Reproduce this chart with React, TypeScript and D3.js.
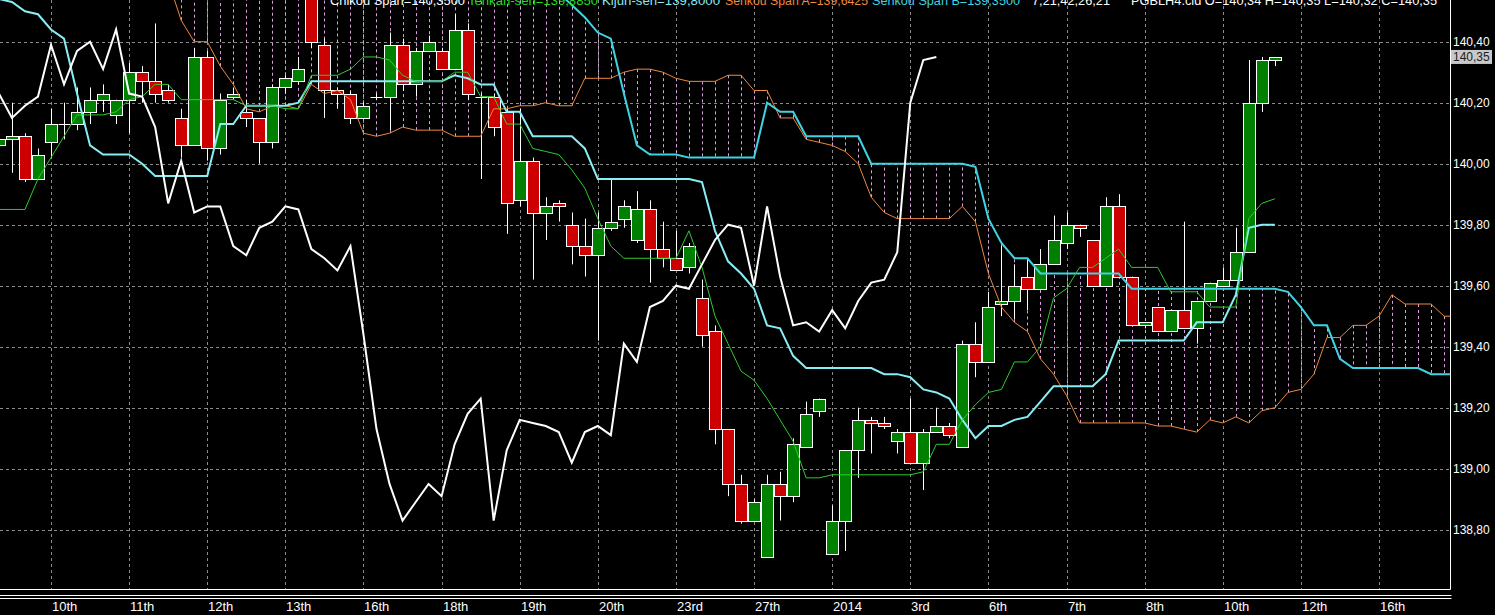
import React from "react";
import * as d3 from "d3";

// ---------------- data (H4 candles, index 0..98) ----------------
const open = [140.06,140.08,140.09,139.95,140.07,140.13,140.13,140.17,140.21,140.16,
140.21,140.30,140.27,140.24,140.15,140.06,140.35,140.05,140.22,140.17,
140.15,140.07,140.25,140.27,140.54,140.39,140.24,140.23,140.15,140.22,
140.22,140.39,140.26,140.37,140.37,140.31,140.44,140.22,140.22,140.17,
139.88,140.01,139.84,139.87,139.80,139.73,139.70,139.79,139.82,139.75,
139.85,139.72,139.69,139.66,139.56,139.45,139.13,138.95,138.83,138.71,
138.95,138.91,139.07,139.19,138.72,138.83,139.06,139.16,139.15,139.09,
139.12,139.02,139.12,139.14,139.07,139.41,139.35,139.54,139.55,139.63,
139.59,139.67,139.74,139.80,139.75,139.60,139.86,139.63,139.47,139.53,
139.45,139.52,139.46,139.55,139.60,139.62,139.71,140.20,140.34];

const high = [140.10,140.20,140.10,140.05,140.18,140.20,140.25,140.25,140.26,140.21,
140.33,140.32,140.46,140.26,140.18,140.38,140.37,140.23,140.25,140.21,
140.15,140.26,140.29,140.35,140.60,140.41,140.25,140.24,140.20,140.23,
140.43,140.41,140.38,140.42,140.38,140.49,140.46,140.23,140.23,140.18,
140.18,140.02,139.89,139.88,139.84,139.82,139.84,139.95,139.88,139.91,
139.88,139.81,139.78,139.74,139.62,139.47,139.13,138.98,138.90,138.98,
138.99,139.10,139.22,139.23,138.88,139.06,139.20,139.17,139.17,139.13,
139.23,139.13,139.20,139.15,139.42,139.48,139.58,139.73,139.67,139.69,
139.72,139.83,139.84,139.80,139.75,139.89,139.90,139.63,139.48,139.53,
139.52,139.81,139.55,139.61,139.66,139.79,140.34,140.35,140.35];

const low = [140.04,139.97,139.94,139.95,140.02,140.08,140.11,140.13,140.17,140.13,
140.10,140.20,140.20,140.20,140.02,140.06,140.01,140.03,140.21,140.12,
140.00,140.05,140.23,140.26,140.38,140.15,140.18,140.13,140.15,140.21,
140.11,140.24,140.22,140.37,140.31,140.31,140.21,139.95,140.09,139.77,
139.86,139.62,139.75,139.81,139.67,139.63,139.42,139.78,139.79,139.74,
139.61,139.66,139.65,139.64,139.40,139.08,138.91,138.82,138.83,138.71,
138.83,138.89,139.07,139.17,138.72,138.73,138.97,139.05,139.13,139.05,
139.02,138.93,139.12,139.10,139.07,139.30,139.35,139.50,139.49,139.52,
139.59,139.67,139.72,139.76,139.60,139.60,139.63,139.47,139.46,139.45,
139.45,139.46,139.41,139.55,139.60,139.62,139.71,140.17,140.32];

const close = [140.08,140.09,139.95,140.03,140.13,140.13,140.17,140.21,140.23,140.21,
140.30,140.27,140.23,140.21,140.06,140.35,140.05,140.21,140.23,140.15,
140.07,140.25,140.28,140.31,140.40,140.24,140.23,140.15,140.19,140.22,
140.39,140.26,140.37,140.40,140.31,140.44,140.23,140.22,140.12,139.87,
140.01,139.84,139.86,139.86,139.73,139.70,139.79,139.81,139.86,139.85,
139.72,139.69,139.65,139.73,139.44,139.13,138.95,138.83,138.89,138.95,
138.91,139.08,139.18,139.23,138.83,139.06,139.16,139.15,139.14,139.12,
139.02,139.12,139.14,139.11,139.41,139.35,139.53,139.55,139.60,139.59,
139.67,139.75,139.80,139.79,139.60,139.86,139.63,139.47,139.48,139.45,
139.52,139.46,139.55,139.61,139.62,139.71,140.20,140.34,140.35];

// Tenkan-sen (green), bars 0..98
const tenkan = [139.85,139.85,139.85,139.95,140.02,140.09,140.16,140.16,140.16,140.17,
140.21,140.22,140.26,140.26,140.21,140.21,140.21,140.21,140.21,140.19,
140.19,140.19,140.18,140.18,140.29,140.29,140.29,140.31,140.35,140.35,
140.34,140.29,140.27,140.27,140.27,140.30,140.30,140.22,140.22,140.13,
140.13,140.05,140.04,140.03,139.98,139.92,139.82,139.73,139.69,139.69,
139.69,139.69,139.69,139.78,139.66,139.50,139.41,139.32,139.29,139.23,
139.16,139.09,138.97,138.97,138.98,138.98,138.98,138.98,138.98,138.98,
138.98,138.99,139.08,139.08,139.16,139.21,139.25,139.26,139.35,139.35,
139.40,139.56,139.59,139.66,139.66,139.69,139.72,139.66,139.66,139.66,
139.58,139.58,139.58,139.53,139.53,139.53,139.82,139.87,139.885];

// Kijun-sen (light cyan), bars 0..98
const kijun = [140.54,140.53,140.50,140.49,140.44,140.41,140.23,140.06,140.03,140.03,
140.03,140.00,139.96,139.96,139.96,139.96,139.96,140.13,140.13,140.19,
140.19,140.19,140.19,140.20,140.27,140.27,140.27,140.27,140.27,140.27,
140.27,140.27,140.27,140.27,140.27,140.29,140.28,140.26,140.26,140.17,
140.17,140.09,140.09,140.09,140.09,140.05,139.95,139.95,139.95,139.95,
139.95,139.95,139.95,139.95,139.94,139.78,139.68,139.64,139.59,139.47,
139.46,139.37,139.33,139.33,139.33,139.33,139.33,139.33,139.31,139.31,
139.30,139.26,139.25,139.23,139.16,139.10,139.14,139.14,139.16,139.17,
139.22,139.27,139.27,139.27,139.27,139.31,139.42,139.42,139.42,139.42,
139.42,139.42,139.48,139.48,139.48,139.57,139.79,139.80,139.80];

// Senkou Span A (orange), plotted bars 0..112
const senkouA = [140.66,140.66,140.70,140.70,140.72,140.72,140.72,140.70,140.70,140.68,
140.68,140.66,140.64,140.60,140.47,140.40,140.40,140.32,140.26,140.18,
140.17,140.19,140.19,140.18,140.26,140.23,140.24,140.21,140.10,140.09,
140.10,140.12,140.11,140.11,140.11,140.09,140.09,140.09,140.18,140.18,
140.19,140.19,140.20,140.19,140.19,140.28,140.28,140.28,140.30,140.31,
140.31,140.30,140.28,140.27,140.27,140.27,140.29,140.29,140.24,140.24,
140.15,140.15,140.08,140.07,140.06,140.04,140.00,139.89,139.84,139.82,
139.82,139.82,139.82,139.82,139.86,139.81,139.64,139.53,139.48,139.45,
139.36,139.31,139.24,139.15,139.15,139.15,139.15,139.15,139.15,139.14,
139.14,139.13,139.12,139.16,139.15,139.17,139.15,139.19,139.20,139.25,
139.26,139.31,139.43,139.43,139.47,139.47,139.50,139.57,139.54,139.54,
139.54,139.50,139.50];

// Senkou Span B (cyan), plotted bars 0..112
const senkouB = [140.80,140.80,140.80,140.80,140.80,140.80,140.80,140.80,140.80,140.80,
140.80,140.80,140.80,140.80,140.80,140.80,140.80,140.80,140.80,140.80,
140.80,140.76,140.76,140.76,140.76,140.76,140.76,140.76,140.76,140.76,
140.76,140.76,140.76,140.76,140.76,140.76,140.70,140.70,140.70,140.70,
140.70,140.70,140.70,140.56,140.52,140.48,140.43,140.41,140.23,140.06,
140.03,140.03,140.03,140.02,140.02,140.02,140.02,140.02,140.02,140.20,
140.17,140.17,140.09,140.09,140.09,140.09,140.09,140.00,140.00,140.00,
140.00,140.00,140.00,140.00,140.00,139.99,139.82,139.74,139.69,139.69,
139.64,139.64,139.64,139.64,139.64,139.64,139.64,139.59,139.59,139.59,
139.59,139.59,139.59,139.59,139.59,139.59,139.59,139.59,139.59,139.58,
139.53,139.47,139.47,139.36,139.33,139.33,139.33,139.33,139.33,139.33,
139.31,139.31,139.31];

// Chikou Span (white), plotted bars 0..72
const chikou = [140.23,140.15,140.19,140.22,140.39,140.26,140.37,140.40,140.31,140.44,
140.23,140.22,140.12,139.87,140.01,139.84,139.86,139.86,139.73,139.70,
139.79,139.81,139.86,139.85,139.72,139.69,139.65,139.73,139.44,139.13,
138.95,138.83,138.89,138.95,138.91,139.08,139.18,139.23,138.83,139.06,
139.16,139.15,139.14,139.12,139.02,139.12,139.14,139.11,139.41,139.35,
139.53,139.55,139.60,139.59,139.67,139.75,139.80,139.79,139.60,139.86,
139.63,139.47,139.48,139.45,139.52,139.46,139.55,139.61,139.62,139.71,
140.20,140.34,140.35];

const dateBars = [4,10,16,22,28,34,40,46,52,58,64,70,76,82,88,94,100,106];
const dateLabels = ["10th","11th","12th","13th","16th","18th","19th","20th","23rd","27th","2014","3rd","6th","7th","8th","10th","12th","16th"];
const priceTicks = [140.4,140.2,140.0,139.8,139.6,139.4,139.2,139.0,138.8];
const lastPrice = 140.35;
const headerTexts = ["Chikou Span=140,3500","Tenkan-sen=139,8850","Kijun-sen=139,8000","Senkou Span A=139,6425","Senkou Span B=139,3500","7,21,42,26,21","PGBLH4.cld O=140,34 H=140,35 L=140,32 C=140,35"];

// ---------------- layout / style ----------------
const W = 1495, H = 615, PR = 1450, PB = 589;
const headerX = [330, 468, 602, 725, 872, 1032, 1131];
const headerW = [135, 130, 118, 143, 148, 78, 306];
const headerColors = ["#ffffff", "#22dd22", "#8ae8f2", "#f08a3c", "#3fd3e3", "#ffffff", "#ffffff"];
const FONT = "'Liberation Sans', Arial, sans-serif";
const BULL = "#008000", BEAR = "#cc0000";
const GRID = "#8a8a8a", HATCH = "#dda0dd";
const TENKAN_C = "#2ecc2e", KIJUN_C = "#87eef5", SA_C = "#f0883e", SB_C = "#3fd3e3";

export default function App() {
  React.useEffect(() => {
    document.body.style.margin = "0";
    document.body.style.background = "#000";
  }, []);

  const x = d3.scaleLinear().domain([4, 106]).range([51, 1379]);
  const y = d3.scaleLinear().domain([138.8, 140.4]).range([529.7, 41.7]);
  const crisp = (v: number) => Math.round(v) + 0.5;
  const fmt = (v: number) => d3.format(".2f")(v).replace(".", ",");
  const lineGen = d3.line<number>().x((_d, i) => x(i)).y((d) => y(d));

  return (
    <div style={{ position: "fixed", left: 0, top: 0, width: W, height: H, background: "#000", overflow: "hidden" }}>
      <svg width={W} height={H} style={{ display: "block" }} fontFamily={FONT}>
        <rect x={0} y={0} width={W} height={H} fill="#000" />
        <defs>
          <clipPath id="plotClip">
            <rect x={0} y={0} width={PR} height={PB} />
          </clipPath>
        </defs>

        <g clipPath="url(#plotClip)">
          {/* grid */}
          {priceTicks.map((v) => (
            <line key={"h" + v} x1={0} x2={PR} y1={crisp(y(v))} y2={crisp(y(v))} stroke={GRID} strokeDasharray="3,3" />
          ))}
          {dateBars.map((b) => (
            <line key={"v" + b} x1={crisp(x(b))} x2={crisp(x(b))} y1={0} y2={PB} stroke={GRID} strokeDasharray="3,3" />
          ))}

          {/* kumo hatch */}
          {senkouA.map((a, i) => (
            <line key={"k" + i} x1={crisp(x(i))} x2={crisp(x(i))} y1={y(a)} y2={y(senkouB[i])} stroke={HATCH} strokeDasharray="3,3" />
          ))}

          {/* candles */}
          {open.map((o, i) => {
            const c = close[i];
            const cx = crisp(x(i));
            const yo = y(o), yc = y(c);
            const top = Math.min(yo, yc), bot = Math.max(yo, yc);
            const bull = c >= o;
            return (
              <g key={"c" + i}>
                <line x1={cx} x2={cx} y1={y(high[i])} y2={y(low[i])} stroke="#fff" />
                {bot - top < 1.5 ? (
                  <line x1={cx - 6} x2={cx + 6} y1={crisp(top)} y2={crisp(top)} stroke="#fff" />
                ) : (
                  <rect x={cx - 6} y={Math.round(top) + 0.5} width={12} height={Math.max(1, Math.round(bot) - Math.round(top))}
                    fill={bull ? BULL : BEAR} stroke="#fff" />
                )}
              </g>
            );
          })}

          {/* ichimoku lines */}
          <path d={lineGen(senkouA) || ""} fill="none" stroke={SA_C} strokeWidth={1} />
          <path d={lineGen(senkouB) || ""} fill="none" stroke={SB_C} strokeWidth={2} />
          <path d={lineGen(kijun) || ""} fill="none" stroke={KIJUN_C} strokeWidth={2} />
          <path d={lineGen(tenkan) || ""} fill="none" stroke={TENKAN_C} strokeWidth={1} />
          <path d={lineGen(chikou) || ""} fill="none" stroke="#fff" strokeWidth={2} />
        </g>

        {/* frame */}
        <line x1={PR + 0.5} x2={PR + 0.5} y1={0} y2={PB + 0.5} stroke="#fff" />
        <line x1={0} x2={PR + 0.5} y1={PB + 0.5} y2={PB + 0.5} stroke="#fff" />
        <line x1={0} x2={PR + 1.5} y1={595.5} y2={595.5} stroke="#fff" />
        <line x1={0} x2={PR + 1.5} y1={598.5} y2={598.5} stroke="#fff" />

        {/* price axis */}
        {priceTicks.map((v) => (
          <text key={"p" + v} x={1453} y={y(v) + 4.5} fill="#fff" fontSize={12}>{fmt(v)}</text>
        ))}
        <rect x={1451} y={y(lastPrice) - 7} width={41} height={14} fill="#c8c8c8" />
        <text x={1453} y={y(lastPrice) + 4.5} fill="#202020" fontSize={12}>{fmt(lastPrice)}</text>

        {/* time axis */}
        {dateBars.map((b, k) => (
          <text key={"d" + b} x={Math.round(x(b)) + 1} y={611} fill="#fff" fontSize={13}>{dateLabels[k]}</text>
        ))}

        {/* header (cut at top) */}
        {headerTexts.map((t, k) => (
          <text key={"t" + k} x={headerX[k]} y={5} fill={headerColors[k]} fontSize={12.5}
            textLength={headerW[k]} lengthAdjust="spacingAndGlyphs">{t}</text>
        ))}
      </svg>
    </div>
  );
}
